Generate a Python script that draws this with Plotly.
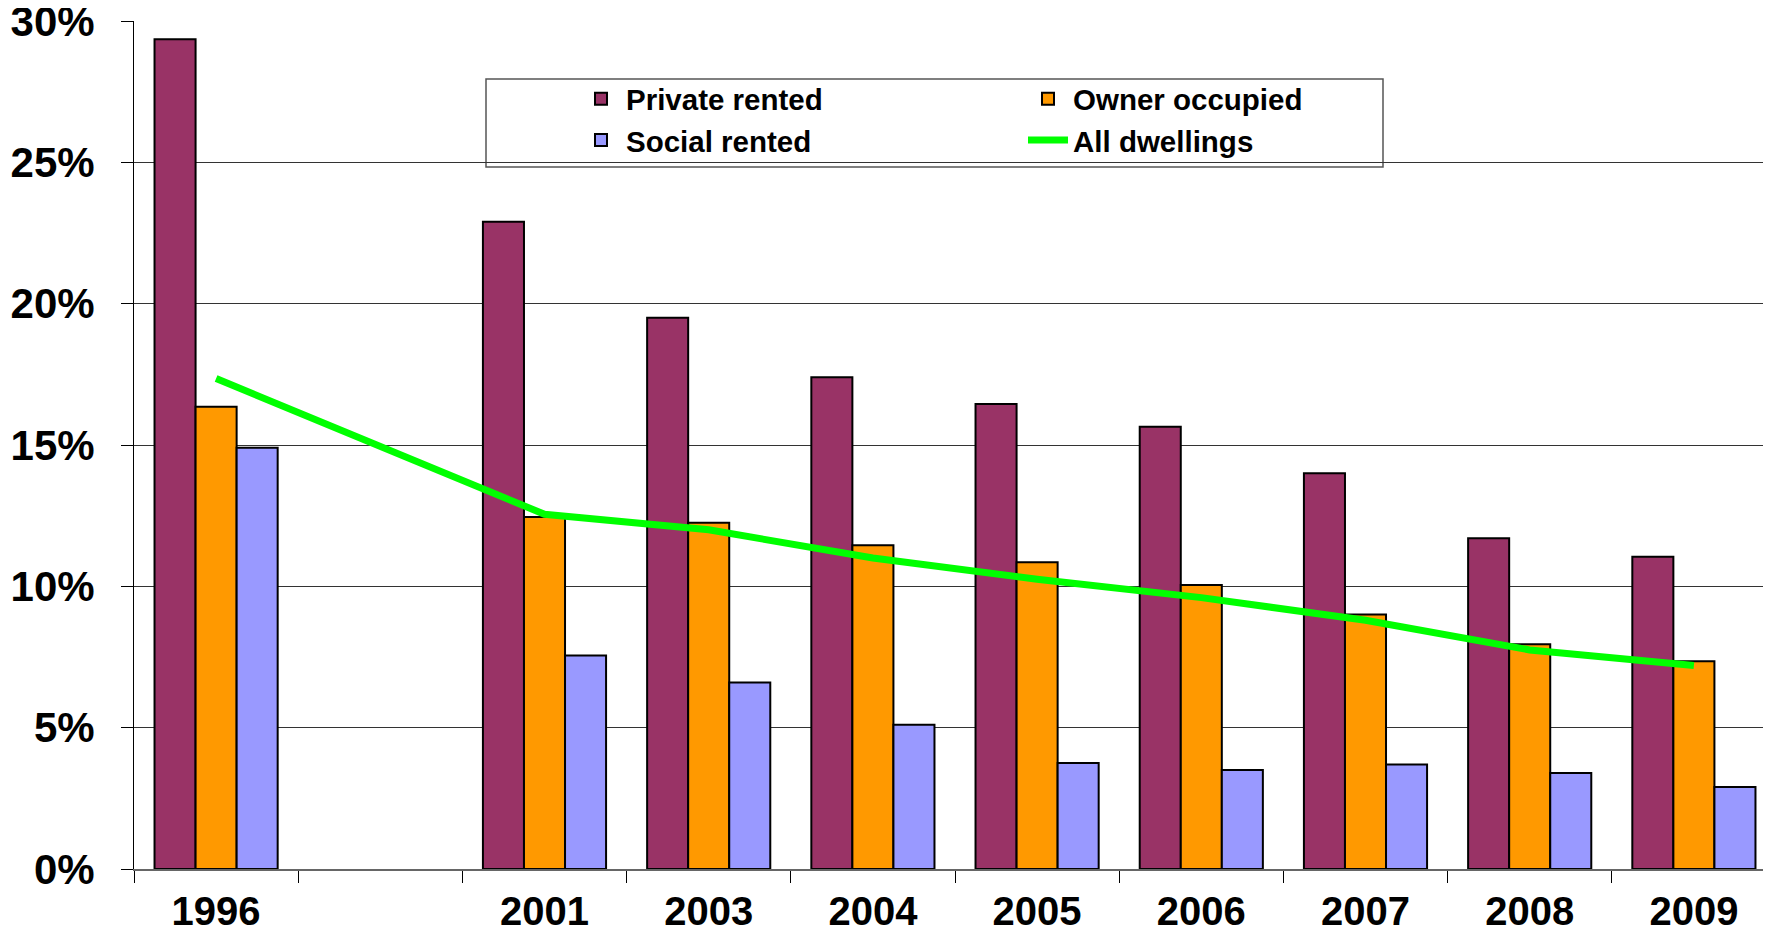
import plotly.graph_objects as go

categories = ["1996", " ", "2001", "2003", "2004", "2005", "2006", "2007", "2008", "2009"]
private_rented = [29.35, None, 22.9, 19.5, 17.4, 16.45, 15.65, 14.0, 11.7, 11.05]
owner_occupied = [16.35, None, 12.45, 12.25, 11.45, 10.85, 10.05, 9.0, 7.95, 7.35]
social_rented = [14.9, None, 7.55, 6.6, 5.1, 3.75, 3.5, 3.7, 3.4, 2.9]
all_dwellings = [17.35, None, 12.55, 12.0, 11.0, 10.25, 9.6, 8.8, 7.75, 7.2]
y_ticks = [0, 5, 10, 15, 20, 25, 30]
y_tick_labels = ["0%", "5%", "10%", "15%", "20%", "25%", "30%"]

FONT = "Liberation Sans, Arial, sans-serif"

fig = go.Figure()
bar_line = dict(color="black", width=2)
fig.add_trace(go.Bar(x=categories, y=private_rented, name="Private rented",
                     marker=dict(color="#993366", line=bar_line), legend="legend"))
fig.add_trace(go.Bar(x=categories, y=owner_occupied, name="Owner occupied",
                     marker=dict(color="#FF9900", line=bar_line), legend="legend2"))
fig.add_trace(go.Bar(x=categories, y=social_rented, name="Social rented",
                     marker=dict(color="#9999FF", line=bar_line), legend="legend"))
fig.add_trace(go.Scatter(x=categories, y=all_dwellings, name="All dwellings",
                         mode="lines", connectgaps=True,
                         line=dict(color="#00FF00", width=7), legend="legend2"))

# the page adds an 8px body margin; layout is given in page pixels
OFF = 8
PL, PT, PR, PB = 134, 21, 1776, 869  # plot area in page pixels
W, H = PR - OFF, 936 - OFF
ml, mt, mr = PL - OFF, PT - OFF, 0
mb = (H + OFF) - PB
pw, ph = W - ml - mr, H - mt - mb

def px_x(x):
    return (x - OFF - ml) / pw

def px_y(y):
    return (H + OFF - mb - y) / ph

legend_style = dict(
    orientation="v", xanchor="left", yanchor="top",
    bgcolor="rgba(0,0,0,0)", borderwidth=0,
    font=dict(family=FONT, size=29.5, color="black", weight="bold"),
    itemwidth=40, traceorder="normal", tracegroupgap=0,
)

fig.update_layout(
    width=W, height=H,
    margin=dict(l=ml, r=mr, t=mt, b=mb, pad=0, autoexpand=False),
    paper_bgcolor="white", plot_bgcolor="white",
    barmode="group", bargap=0.25, bargroupgap=0,
    font=dict(family=FONT, color="black", weight="bold"),
    legend=dict(x=px_x(627 - 51), y=px_y(73), **legend_style),
    legend2=dict(x=px_x(1074 - 51), y=px_y(73), **legend_style),
    shapes=[dict(type="rect", xref="paper", yref="paper",
                 x0=px_x(486), x1=px_x(1383), y0=px_y(167), y1=px_y(79),
                 line=dict(color="#555555", width=1.5), fillcolor="white", layer="below")],
)
fig.update_xaxes(
    type="category", categoryorder="array", categoryarray=categories,
    range=[-0.5, 9.5], tickson="boundaries", automargin=False,
    ticks="outside", ticklen=12, tickcolor="black", tickwidth=1,
    showline=True, linecolor="#666666", linewidth=1.5,
    showgrid=False, ticklabelstandoff=6,
    tickfont=dict(family=FONT, size=40, color="black", weight="bold"),
)
fig.update_yaxes(
    range=[0, 30], tickvals=y_ticks, ticktext=y_tick_labels, automargin=False,
    ticks="outside", ticklen=12, tickcolor="black", tickwidth=1,
    showline=True, linecolor="black", linewidth=1,
    showgrid=True, gridcolor="#333333", gridwidth=1, zeroline=False,
    ticklabelstandoff=18, ticklabeloverflow="allow",
    tickfont=dict(family=FONT, size=42, color="black", weight="bold"),
)

fig.write_html("out.html")
